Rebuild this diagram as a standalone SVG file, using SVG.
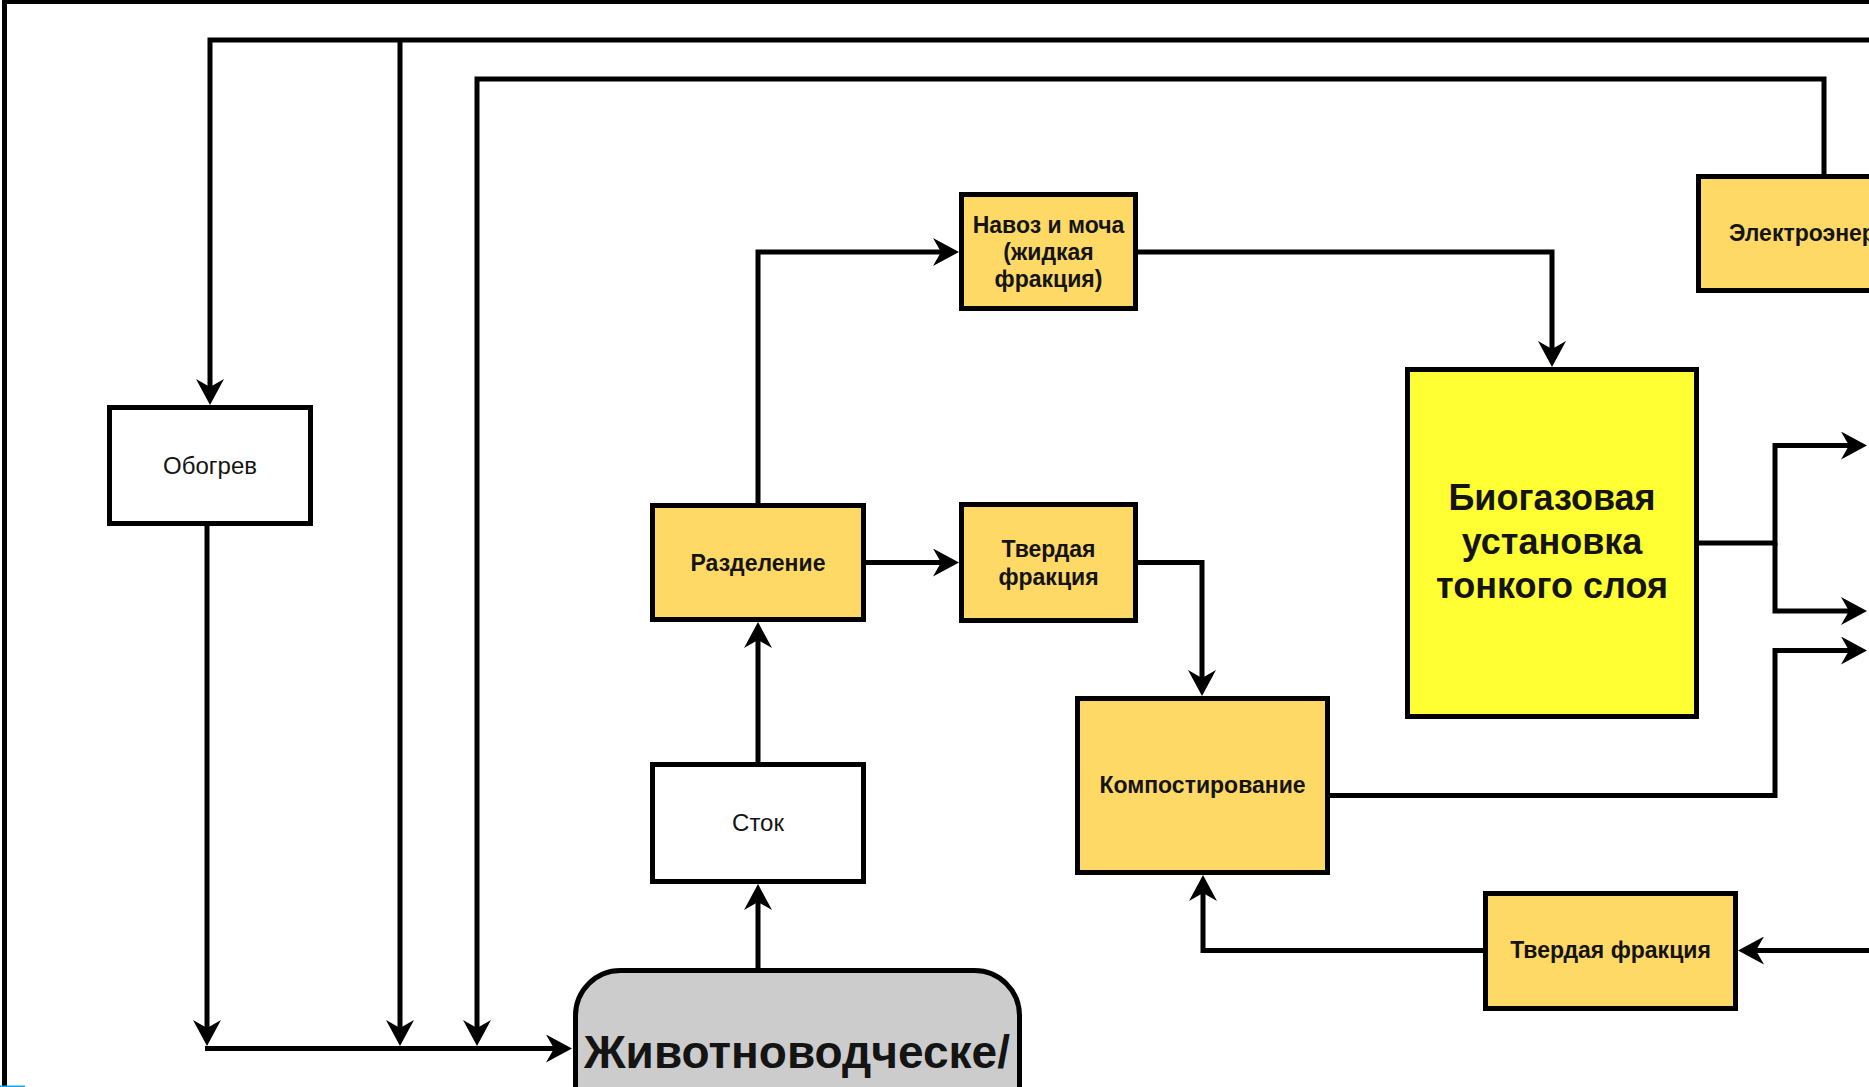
<svg xmlns="http://www.w3.org/2000/svg" width="1869" height="1087" viewBox="0 0 1869 1087">
<defs>
<style>
.box{stroke:#000;stroke-width:5}
.y{fill:#FFD966}
.w{fill:#FFFFFF}
.b{fill:#FFFF33}
.g{fill:#CCCCCC}
.t{font-family:"Liberation Sans",Arial,Helvetica,sans-serif;font-size:24px;fill:#141414;text-anchor:middle}
.tb{font-weight:bold;font-size:23px}
.big{font-weight:bold;font-size:36px}
.huge{font-weight:bold;font-size:46px}
.conn{fill:none;stroke:#000;stroke-width:5;stroke-linejoin:miter}
.arr{marker-end:url(#arrow)}
</style>
<marker id="arrow" markerUnits="userSpaceOnUse" markerWidth="26" markerHeight="28" viewBox="0 0 26 28" refX="18" refY="14" orient="auto">
<path d="M0,0 L26,14 L0,28 L8,14 Z" fill="#000"/>
</marker>
</defs>
<rect x="0" y="0" width="1869" height="1087" fill="#FFFFFF"/>
<rect id="frame" x="4.5" y="1.5" width="2000" height="2000" fill="none" stroke="#000" stroke-width="5"/>
<rect x="0" y="1085.5" width="25" height="1.5" fill="#1AA7E8"/>

<g id="connectors">
<path class="conn arr" d="M1900,40 H210 V397"/>
<path class="conn arr" d="M400,40 V1038"/>
<path class="conn arr" d="M1824,176 V79 H477 V1038"/>
<path class="conn arr" d="M207,526 V1038"/>
<path class="conn arr" d="M205,1048.5 H564"/>
<path class="conn arr" d="M758,968 V892"/>
<path class="conn arr" d="M758,762 V630"/>
<path class="conn arr" d="M758,503 V252 H951"/>
<path class="conn arr" d="M866,562.5 H951"/>
<path class="conn arr" d="M1138,252 H1552 V359"/>
<path class="conn arr" d="M1138,562.5 H1202 V688"/>
<path class="conn arr" d="M1330,795.5 H1775 V650.5 H1859"/>
<path class="conn arr" d="M1699,543 H1775 V445.5 H1859"/>
<path class="conn arr" d="M1775,543 V611 H1859"/>
<path class="conn arr" d="M1900,950.5 H1746"/>
<path class="conn arr" d="M1483,950.5 H1203 V883"/>
</g>

<g id="node-obogrev">
<rect class="box w" x="109.5" y="407.5" width="201" height="116"/>
<text class="t" x="210" y="474">Обогрев</text>
</g>

<g id="node-razdelenie">
<rect class="box y" x="652.5" y="505.5" width="211" height="114"/>
<text class="t tb" x="758" y="570.5">Разделение</text>
</g>

<g id="node-stok">
<rect class="box w" x="652.5" y="764.5" width="211" height="117"/>
<text class="t" x="758" y="831">Сток</text>
</g>

<g id="node-navoz">
<rect class="box y" x="961.5" y="194.5" width="174" height="114"/>
<text class="t tb" x="1048.5" y="232.5">Навоз и моча</text>
<text class="t tb" x="1048.5" y="259.5">(жидкая</text>
<text class="t tb" x="1048.5" y="286.5">фракция)</text>
</g>

<g id="node-tverdaya-1">
<rect class="box y" x="961.5" y="504.5" width="174" height="116"/>
<text class="t tb" x="1048.5" y="557">Твердая</text>
<text class="t tb" x="1048.5" y="585">фракция</text>
</g>

<g id="node-kompost">
<rect class="box y" x="1077.5" y="698.5" width="250" height="174"/>
<text class="t tb" x="1202.5" y="793">Компостирование</text>
</g>

<g id="node-tverdaya-2">
<rect class="box y" x="1485.5" y="893.5" width="250" height="115"/>
<text class="t tb" x="1610.5" y="958">Твердая фракция</text>
</g>

<g id="node-biogaz">
<rect class="box b" x="1407.5" y="369.5" width="289" height="347"/>
<text class="t big" x="1552" y="510">Биогазовая</text>
<text class="t big" x="1552" y="554">установка</text>
<text class="t big" x="1552" y="598">тонкого слоя</text>
</g>

<g id="node-elektro">
<rect class="box y" x="1698.5" y="176.5" width="400" height="114"/>
<text class="t tb" x="1729" y="241" style="text-anchor:start">Электроэнергия</text>
</g>

<g id="node-zhivotnovod">
<rect class="box g" x="575.5" y="970.5" width="444" height="300" rx="45" ry="45"/>
<text class="t huge" x="797" y="1068">Животноводческе/</text>
</g>
</svg>
